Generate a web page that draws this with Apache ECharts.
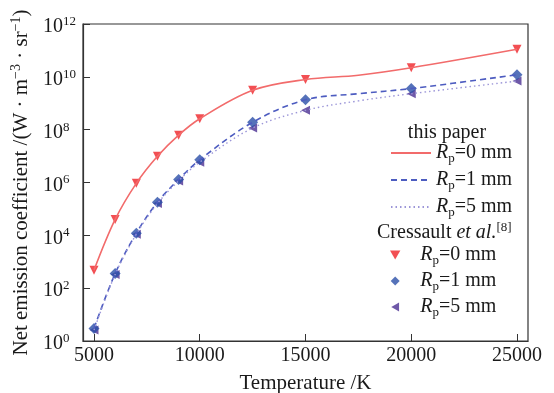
<!DOCTYPE html>
<html><head><meta charset="utf-8">
<script src="https://cdn.jsdelivr.net/npm/echarts@6/dist/echarts.min.js"></script>
<style>html,body{margin:0;padding:0;background:#fff}#c{width:554px;height:393px}</style>
</head><body><div id="c"></div>
<script>
// ---- data ----
const cressTemps = [5000, 6000, 7000, 8000, 9000, 10000, 12500, 15000, 20000, 25000];
const paperTemps = [5000, 6000, 7000, 8000, 9000, 10000, 12500, 15000, 17500, 20000, 25000];
const paperRp0 = [480, 4.0e4, 9.3e5, 9.8e6, 6.2e7, 2.6e8, 3.1e9, 7.9e9, 1.15e10, 2.2e10, 1.1e11];
const paperRp1 = [3.0, 360, 1.2e4, 1.8e5, 1.3e6, 7.2e6, 1.9e8, 1.35e9, 2.3e9, 3.6e9, 1.2e10];
const paperRp5 = [2.6, 330, 1.1e4, 1.6e5, 1.15e6, 5.9e6, 1.15e8, 5.4e8, 1.23e9, 2.3e9, 6.9e9];
const cressRp0 = [480, 4.0e4, 9.3e5, 9.8e6, 6.2e7, 2.6e8, 3.1e9, 7.9e9, 2.2e10, 1.1e11];
const cressRp1 = [3.0, 360, 1.2e4, 1.8e5, 1.3e6, 7.2e6, 1.9e8, 1.35e9, 3.6e9, 1.2e10];
const cressRp5 = [2.6, 330, 1.1e4, 1.6e5, 1.15e6, 5.9e6, 1.15e8, 5.4e8, 2.3e9, 6.9e9];
const xTickValues = [5000, 10000, 15000, 20000, 25000];
const yTickValues = [1, 1e2, 1e4, 1e6, 1e8, 1e10, 1e12];
const legendLabels = {L0: '0', L1: '1', L5: '5', C0: '0', C1: '1', C5: '5'};

const F = '"Liberation Serif", "DejaVu Serif", serif';
const INK = '#1a1a1a';
const zip = (xs, ys) => xs.map((x, i) => [x, ys[i]]);

const richBase = {
  t: {fontFamily: F, fontSize: 20, color: INK, lineHeight: 24, verticalAlign: 'middle'},
  i: {fontFamily: F, fontSize: 20, color: INK, fontStyle: 'italic', lineHeight: 24, verticalAlign: 'middle'},
  s: {fontFamily: F, fontSize: 13, color: INK, lineHeight: 13, verticalAlign: 'bottom'},
  p: {fontFamily: F, fontSize: 13, color: INK, lineHeight: 13, verticalAlign: 'top'}
};
const richName = {
  t: {fontFamily: F, fontSize: 21, color: INK, lineHeight: 25, verticalAlign: 'middle'},
  p: {fontFamily: F, fontSize: 14, color: INK, lineHeight: 14, verticalAlign: 'top'}
};

const chart = echarts.init(document.getElementById('c'), null, {renderer: 'canvas'});
chart.setOption({
  animation: false,
  backgroundColor: '#fff',
  grid: {left: 83, right: 26, top: 24, bottom: 52, show: true, borderColor: '#333', borderWidth: 1.2,
         containLabel: false, outerBoundsMode: 'none'},
  xAxis: {
    type: 'value', min: 4480, max: 25520,
    name: 'Temperature /K', nameLocation: 'middle', nameGap: 32,
    nameTextStyle: {fontFamily: F, fontSize: 21, color: INK},
    axisLine: {lineStyle: {color: '#333', width: 1.2}},
    axisTick: {inside: true, length: 7, customValues: xTickValues, lineStyle: {color: '#333'}},
    axisLabel: {customValues: xTickValues, formatter: v => String(v), fontFamily: F, fontSize: 20, color: INK, margin: 5},
    splitLine: {show: false}
  },
  yAxis: {
    type: 'log', logBase: 10, min: 1, max: 1e12,
    name: '{t|Net emission coefficient /(W · m}{p|−3}{t| · sr}{p|−1}{t|)}',
    nameLocation: 'middle', nameGap: 47, nameRotate: 90,
    nameTextStyle: {rich: richName},
    axisLine: {lineStyle: {color: '#333', width: 1.2}},
    axisTick: {inside: true, length: 7, customValues: yTickValues, lineStyle: {color: '#333'}},
    minorTick: {show: false},
    axisLabel: {
      customValues: yTickValues,
      margin: 40, align: 'left', padding: [6, 0, 0, 0],
      formatter: v => '{t|10}{p|' + Math.round(Math.log10(v)) + '}',
      rich: richBase
    },
    splitLine: {show: false}
  },
  legend: [
    {
      data: ['L0', 'L1', 'L5'], orient: 'vertical', left: 390, top: 143, padding: 0,
      itemWidth: 40, itemHeight: 14, itemGap: 5, selectedMode: false,
      itemStyle: {opacity: 0, color: 'transparent', borderColor: 'transparent'},
      formatter: n => '{i|R}{s|p}{t|=' + legendLabels[n] + ' mm}',
      textStyle: {rich: richBase}
    },
    {
      data: [
        {name: 'C0', icon: 'path://M0,0L10,0L5,8.7Z'},
        {name: 'C1', icon: 'path://M5,0L10,5L5,10L0,5Z'},
        {name: 'C5', icon: 'path://M8.7,0L8.7,10L0,5Z'}
      ],
      orient: 'vertical', left: 390, top: 245, padding: 0,
      itemWidth: 40, itemHeight: 9, itemGap: 4, selectedMode: false, symbolKeepAspect: true,
      formatter: n => '{i|R}{s|p}{t|=' + legendLabels[n] + ' mm}',
      textStyle: {rich: richBase}
    }
  ],
  graphic: [
    {type: 'text', x: 447, y: 133, style: {text: 'this paper', fontFamily: F, fontSize: 20, fill: INK, align: 'center', verticalAlign: 'middle'}},
    {type: 'text', x: 377, y: 233, style: {
      text: '{t|Cressault }{i|et al.}{p|[8]}', align: 'left', verticalAlign: 'middle',
      rich: {
        t: {fontFamily: F, fontSize: 20, fill: INK, lineHeight: 24, verticalAlign: 'middle'},
        i: {fontFamily: F, fontSize: 20, fill: INK, fontStyle: 'italic', lineHeight: 24, verticalAlign: 'middle'},
        p: {fontFamily: F, fontSize: 13, fill: INK, lineHeight: 13, verticalAlign: 'top'}
      }
    }}
  ],
  series: [
    {name: 'L0', type: 'line', data: zip(paperTemps, paperRp0), smooth: 0.35, symbol: 'none',
     lineStyle: {color: '#f26b6b', width: 1.6, type: 'solid'}, itemStyle: {color: '#f26b6b'}},
    {name: 'L1', type: 'line', data: zip(paperTemps, paperRp1), smooth: 0.35, symbol: 'none',
     lineStyle: {color: '#4d5cc0', width: 1.6, type: [6, 4]}, itemStyle: {color: '#4d5cc0'}},
    {name: 'L5', type: 'line', data: zip(paperTemps, paperRp5), smooth: 0.35, symbol: 'none',
     lineStyle: {color: '#9c96d8', width: 1.4, type: [1.5, 3]}, itemStyle: {color: '#9c96d8'}},
    {name: 'C5', type: 'scatter', data: zip(cressTemps, cressRp5), symbol: 'triangle', symbolRotate: 90, symbolSize: 9,
     itemStyle: {color: '#4b2f92'}},
    {name: 'C1', type: 'scatter', data: zip(cressTemps, cressRp1), symbol: 'diamond', symbolSize: 11,
     itemStyle: {color: '#2a4fa8'}},
    {name: 'C0', type: 'scatter', data: zip(cressTemps, cressRp0), symbol: 'triangle', symbolRotate: 180, symbolSize: 9,
     itemStyle: {color: '#ef2328'}}
  ]
});
</script></body></html>
